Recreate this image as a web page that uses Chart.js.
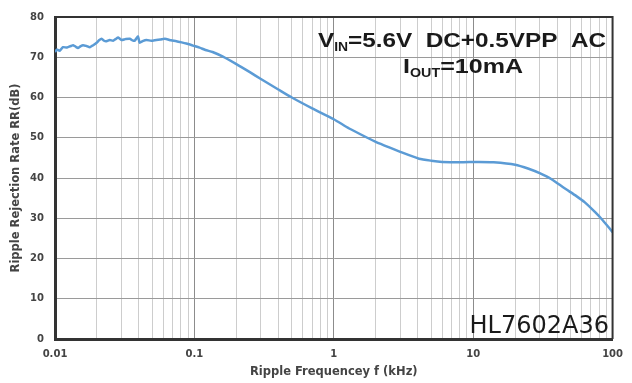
<!DOCTYPE html>
<html>
<head>
<meta charset="utf-8">
<script src="https://cdn.jsdelivr.net/npm/chart.js@4.4.1/dist/chart.umd.min.js"></script>
<style>
html,body{margin:0;padding:0;background:#fff;}
#wrap{width:632px;height:383px;position:relative;}
</style>
</head>
<body>
<div id="wrap"><canvas id="c" width="632" height="383"></canvas></div>
<script>
// ---- data ----
const freqKHz = [0.0100,0.0103,0.0108,0.0114,0.0122,0.0130,0.0135,0.0141,0.0146,0.0152,
  0.0159,0.0168,0.0178,0.0188,0.0199,0.0207,0.0216,0.0225,0.0234,0.0247,
  0.0261,0.0272,0.0284,0.0300,0.0320,0.0344,0.0360,0.0373,0.0394,0.0405,
  0.0425,0.0453,0.0490,0.0534,0.0570,0.0613,0.0680,0.0743,0.0810,0.0876,
  0.0978,0.109,0.120,0.135,0.159,0.2,0.25,0.3,0.4,0.5,
  0.7,1.0,1.29,1.74,2.0,2.5,3.0,4.09,5,6,
  8,11,14,20,25,30,36.5,45,55,63,
  75,85,95,100];
const rejectionDB = [71.3,71.9,71.6,72.5,72.4,72.8,73.0,72.6,72.3,72.7,
  73.0,72.8,72.5,73.0,73.6,74.2,74.6,74.1,74.0,74.3,
  74.1,74.5,74.9,74.3,74.5,74.6,74.2,74.1,75.2,73.6,
  74.0,74.3,74.1,74.3,74.4,74.6,74.2,74.0,73.7,73.4,
  72.9,72.4,71.8,71.3,70.2,68.3,66.3,64.6,62.0,60.0,
  57.3,54.6,52.3,50.0,49.0,47.6,46.5,44.8,44.3,44.0,
  43.9,44.0,43.9,43.3,42.3,41.2,39.7,37.5,35.5,34.0,
  31.5,29.5,27.5,26.5];
const xDecadeLabels = ['0.01','0.1','1','10','100'];
const yTickValues = [0,10,20,30,40,50,60,70,80];
const xTitle = 'Ripple Frequencey f (kHz)';
const yTitle = 'Ripple Rejection Rate RR(dB)';
const noteLine1 = {main:'V', sub:'IN', rest:'=5.6V  DC+0.5VPP  AC'};
const noteLine2 = {main:'I', sub:'OUT', rest:'=10mA'};
const partName = 'HL7602A36';

// ---- build ----
const points = freqKHz.map((f,i)=>({x:f, y:rejectionDB[i]}));
const decadeValues = xDecadeLabels.map(Number);
const allXTicks = [];
decadeValues.forEach((d,i)=>{
  if (i < decadeValues.length-1) { for (let m=1;m<=9;m++) allXTicks.push(Number((d*m).toPrecision(3))); }
  else allXTicks.push(d);
});
function isDecade(v){ return decadeValues.some(d=>Math.abs(d-v)/d < 1e-6); }

const overlay = {
  id:'overlay',
  afterDatasetsDraw(chart){
    const ctx = chart.ctx, a = chart.chartArea;
    ctx.save();
    ctx.strokeStyle = '#333'; ctx.lineWidth = 2;
    ctx.beginPath();
    ctx.moveTo(a.left, a.top); ctx.lineTo(a.right, a.top); ctx.lineTo(a.right, a.bottom);
    ctx.stroke();
    function drawNote(n, x0, x1, base){
      const big = 'bold 21px "Liberation Sans", Arial, sans-serif';
      const small = 'bold 12px "Liberation Sans", Arial, sans-serif';
      ctx.font = big; const w1 = ctx.measureText(n.main).width;
      const w3 = ctx.measureText(n.rest).width;
      ctx.font = small; const w2 = ctx.measureText(n.sub).width;
      const s = (x1-x0)/(w1+w2+w3);
      ctx.save();
      ctx.translate(x0, base); ctx.scale(s,1);
      ctx.fillStyle = '#1a1a1a'; ctx.textBaseline = 'alphabetic'; ctx.textAlign='left';
      ctx.font = big; ctx.fillText(n.main, 0, 0);
      ctx.font = small; ctx.fillText(n.sub, w1, 4);
      ctx.font = big; ctx.fillText(n.rest, w1+w2, 0);
      ctx.restore();
    }
    drawNote(noteLine1, 318, 606, 47);
    drawNote(noteLine2, 403, 523, 73);
    ctx.font = '24px "DejaVu Sans", sans-serif';
    ctx.fillStyle = '#1a1a1a'; ctx.textAlign = 'right'; ctx.textBaseline='alphabetic';
    ctx.fillText(partName, 609, 333);
    ctx.restore();
  }
};

new Chart(document.getElementById('c'), {
  type:'line',
  data:{ datasets:[{ data:points, borderColor:'#5b9bd5', borderWidth:2.5, pointRadius:0, tension:0.2, fill:false }] },
  options:{
    responsive:false, animation:false, devicePixelRatio:1,
    layout:{ padding:{ top:12, right:18, bottom:0, left:0 } },
    plugins:{ legend:{display:false}, tooltip:{enabled:false} },
    scales:{
      x:{
        type:'logarithmic', min:0.01, max:100,
        afterBuildTicks(scale){ scale.ticks = allXTicks.map(v=>({value:v})); },
        afterFit(scale){ scale.height = 44; },
        ticks:{ autoSkip:false, maxRotation:0, padding:9, color:'#444',
          font:{family:'"DejaVu Sans", sans-serif', size:10, weight:'bold'},
          callback(v){ const i = decadeValues.findIndex(d=>Math.abs(d-v)/d<1e-6); return i>=0 ? xDecadeLabels[i] : ''; } },
        grid:{ drawTicks:false, lineWidth:1,
          color(c){ return (c.tick && isDecade(c.tick.value)) ? '#8c8c8c' : '#cdcdcd'; } },
        border:{ display:true, color:'#333', width:3 },
        title:{ display:true, text:xTitle, color:'#444', padding:{top:0,bottom:4},
          font:{family:'"DejaVu Sans", sans-serif', size:11.5, weight:'bold'} }
      },
      y:{
        min:0, max:80,
        afterBuildTicks(scale){ scale.ticks = yTickValues.map(v=>({value:v})); },
        afterFit(scale){ scale.width = 55; },
        ticks:{ padding:11, color:'#444',
          font:{family:'"DejaVu Sans", sans-serif', size:10, weight:'bold'} },
        grid:{ drawTicks:false, color:'#9a9a9a', lineWidth:1 },
        border:{ display:true, color:'#333', width:3 },
        title:{ display:true, text:yTitle, color:'#444', padding:{top:9,bottom:0},
          font:{family:'"DejaVu Sans", sans-serif', size:11.5, weight:'bold'} }
      }
    }
  },
  plugins:[overlay]
});
</script>
</body>
</html>
